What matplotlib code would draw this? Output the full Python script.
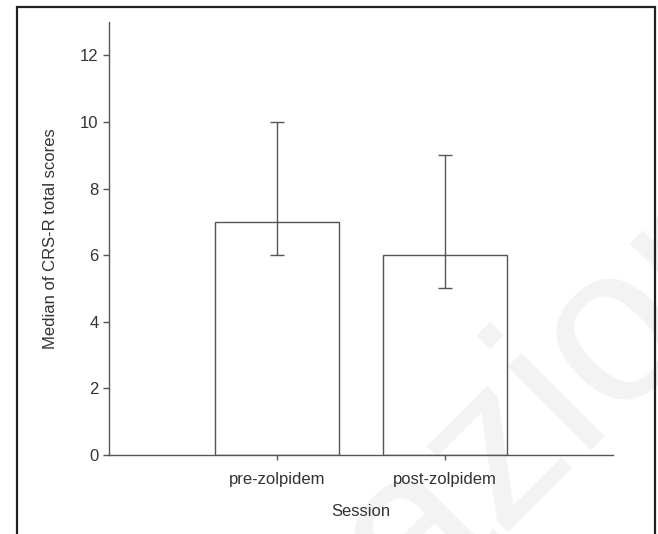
import matplotlib
matplotlib.use("Agg")
from matplotlib import pyplot as plt
from matplotlib.patches import Rectangle

# data
sessions = ["pre-zolpidem", "post-zolpidem"]
medians = [7, 6]
lower = [6, 5]   # lower end of error bar
upper = [10, 9]  # upper end of error bar

plt.rcParams['font.family'] = ['Liberation Sans', 'DejaVu Sans']

line_col = '#555555'
text_col = '#333333'

fig = plt.figure(figsize=(6.58, 5.34), dpi=100)

# faint watermark behind everything
fig.text(0.675, -0.22, "azione", rotation=45, fontsize=160, color='#f3f3f3',
         ha='left', va='bottom', zorder=-5, rotation_mode='anchor')

# outer frame of the picture
fig.patches.append(Rectangle((17 / 658, -0.05), (655 - 17) / 658, 1.05 - 7 / 534,
                             transform=fig.transFigure, fill=False,
                             edgecolor='#222222', linewidth=1.6, zorder=1))

ax = fig.add_axes([109 / 658, (534 - 455) / 534, 504 / 658, 433 / 534])
ax.patch.set_alpha(0)

x = [1, 2]
yerr = [[m - lo for m, lo in zip(medians, lower)],
        [hi - m for m, hi in zip(medians, upper)]]
ax.bar(x, medians, width=0.74, color='none', edgecolor=line_col, linewidth=1.0, zorder=2)
ax.errorbar(x, medians, yerr=yerr, fmt='none', ecolor=line_col, elinewidth=1.0,
            capsize=4.7, capthick=1.0, zorder=3)

ax.set_xlim(0, 3)
ax.set_ylim(0, 13)
ax.set_yticks(range(0, 13, 2))
ax.set_xticks(x)
ax.set_xticklabels(sessions)

for side in ['top', 'right']:
    ax.spines[side].set_visible(False)
for side in ['left', 'bottom']:
    ax.spines[side].set_color(line_col)
    ax.spines[side].set_linewidth(1.0)

ax.tick_params(axis='y', direction='out', length=4.5, width=1.0, color=line_col,
               labelsize=12, labelcolor=text_col, pad=3)
ax.tick_params(axis='x', direction='out', length=3.5, width=1.0, color=line_col,
               labelsize=12, labelcolor=text_col, pad=9)

ax.set_xlabel("Session", fontsize=12, color=text_col, labelpad=12)
ax.set_ylabel("Median of CRS-R total scores", fontsize=12, color=text_col, labelpad=16)

fig.savefig("out.png", dpi=100)
